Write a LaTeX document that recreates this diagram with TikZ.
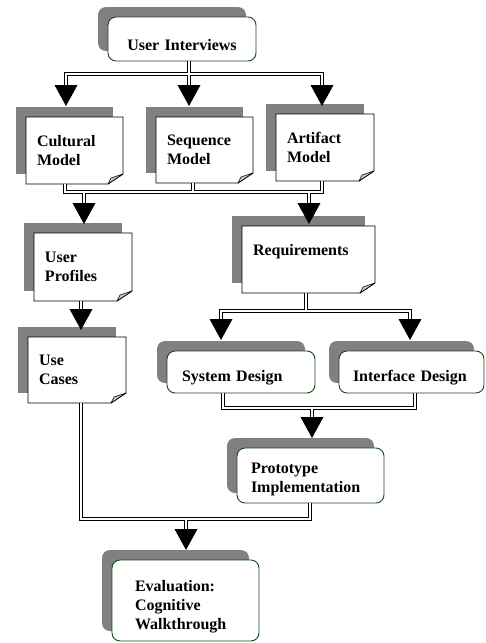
\documentclass[tikz,border=0pt]{standalone}
\usepackage{fontspec}
\setmainfont{Liberation Serif}
\usetikzlibrary{shadows,calc}
\definecolor{shadowgray}{RGB}{128,128,128}
\definecolor{edgegreen}{RGB}{24,72,24}
\definecolor{foldgray}{RGB}{200,200,200}

\begin{document}
\begin{tikzpicture}[x=1pt,y=-1pt,
  every node/.style={font=\fontsize{16}{19}\selectfont\bfseries, outer sep=0pt},
  backshadow/.style={drop shadow={shadow xshift=-10pt,shadow yshift=10pt,fill=shadowgray,opacity=1}},
  % page-like box with a folded corner (outline drawn afterwards)
  note/.style n args={2}{backshadow, fill=white, text width=#1, minimum height=#2,
    inner xsep=11pt, inner ysep=0pt, align=left, text height=11pt, text depth=20pt},
  % rounded activity box: text width, height, side padding
  rbox/.style n args={3}{backshadow, fill=white, draw=edgegreen, line width=0.9pt,
    rounded corners=8pt, text width=#1, minimum height=#2, inner xsep=#3,
    inner ysep=0pt, align=left},
  link/.style={draw=black, line width=0.9pt, double=white, double distance=2pt, line join=miter},
  headfill/.style={fill=black}
]
\fill[white] (0,0) rectangle (485,643);
\useasboundingbox (0,0) rectangle (485,643);

% ---- boxes ----
\node[rbox={148pt}{44pt}{0pt}, align=center, text height=22pt, text depth=0pt] (ui) at (182,39) {User Interviews};

\node[note={75pt}{67pt}] (cm) at (74.5,150.5) {Cultural\\Model};
\node[note={75pt}{66pt}] (sm) at (204.5,150) {Sequence\\Model};
\node[note={76pt}{67pt}] (am) at (325,147.5) {Artifact\\Model};
\node[note={76pt}{68pt}] (up) at (83,267) {User\\Profiles};
\node[note={76pt}{66pt}] (uc) at (77,370) {Use\\Cases};
\node[note={111pt}{67pt}] (rq) at (308.5,259.5) {Requirements};

\node[rbox={118pt}{42pt}{15pt}, text height=18pt, text depth=0pt] (sd) at (241,372) {System Design};
\node[rbox={117pt}{42pt}{14pt}, text height=18pt, text depth=0pt] (id) at (411.5,372) {Interface Design};
\node[rbox={119pt}{55pt}{14pt}, text height=11pt, text depth=16pt] (pi) at (310.5,475.5) {Prototype\\Implementation};
\node[rbox={101pt}{81pt}{23pt}, text height=11pt, text depth=30pt] (ev) at (185.5,600.5) {Evaluation:\\Cognitive\\Walkthrough};

% outlines of the page boxes with their turned-down corner
\foreach \n in {cm,sm,am,up,uc,rq}{
  \draw[line width=0.9pt, line join=miter] (\n.north west) -- (\n.north east)
    -- ($(\n.south east)+(0,-10)$) -- ($(\n.south east)+(-15,0)$) -- (\n.south west) -- cycle;
  \draw[line width=0.6pt, fill=foldgray, line join=round] ($(\n.south east)+(0,-10)$)
    -- ($(\n.south east)+(-12,-6)$) -- ($(\n.south east)+(-15,0)$) -- cycle;
}

% ---- junction points and arrow tips ----
\coordinate (j1) at (189,74);  \coordinate (l1) at (66,74);  \coordinate (r1) at (322,74);
\coordinate (tcm) at (66,106); \coordinate (tsm) at (189,106); \coordinate (tam) at (322,106);

\coordinate (l2) at (65,192);  \coordinate (m2) at (193,192); \coordinate (r2) at (322,192);
\coordinate (tup) at (84,224); \coordinate (trq) at (309,224);

\coordinate (tuc) at (81,330);

\coordinate (l4) at (221,311); \coordinate (m4) at (306,311); \coordinate (r4) at (410,311);
\coordinate (tsd) at (221,340); \coordinate (tid) at (410,340);

\coordinate (l5) at (223,408); \coordinate (r5) at (415,408);
\coordinate (tpi) at (312,438);

\coordinate (l6) at (81,519); \coordinate (r6) at (310,519);
\coordinate (tev) at (186,550);

% ---- connectors ----
\draw[link] (ui.south -| j1) -- ($(tsm)+(0,-17)$)
  ($(tcm)+(0,-17)$) -- (l1) -- (r1) -- ($(tam)+(0,-17)$);

\draw[link] (cm.south -| l2) -- (l2) -- (r2) -- (am.south -| r2)
  (sm.south -| m2) -- (m2)
  (tup |- l2) -- ($(tup)+(0,-17)$)
  (trq |- l2) -- ($(trq)+(0,-17)$);

\draw[link] (up.south -| tuc) -- ($(tuc)+(0,-17)$);

\draw[link] (rq.south -| m4) -- (m4)
  ($(tsd)+(0,-17)$) -- (l4) -- (r4) -- ($(tid)+(0,-17)$);

\draw[link] (sd.south -| l5) -- (l5) -- (r5) -- (id.south -| r5)
  (tpi |- l5) -- ($(tpi)+(0,-17)$);

\draw[link] (uc.south -| l6) -- (l6) -- (r6) -- (pi.south -| r6)
  (tev |- l6) -- ($(tev)+(0,-17)$);

% ---- arrowheads ----
\foreach \t in {tcm,tsm,tam,tup,trq,tuc,tsd,tid,tpi,tev}
  \fill[headfill] (\t) -- ++(-11.5,-21) -- ++(23,0) -- cycle;
\end{tikzpicture}
\end{document}
